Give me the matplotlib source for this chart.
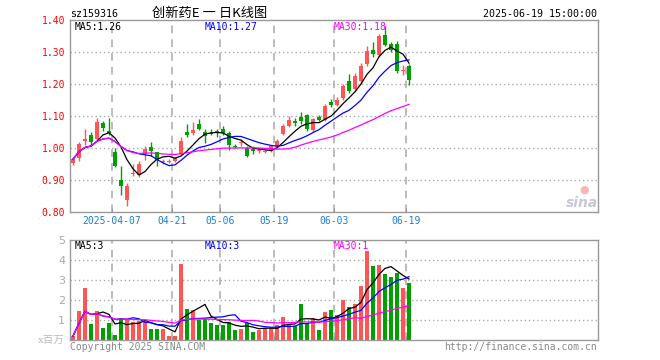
import numpy as np
import pandas as pd
import matplotlib
matplotlib.use("Agg")
import matplotlib.pyplot as plt

# daily bars, 2025-03-26 .. 2025-06-19
opens = [0.952, 0.970, 1.021, 1.040, 1.028, 1.077, 1.052, 0.989, 0.901, 0.836,
         0.918, 0.915, 0.980, 1.004, 0.988, 0.955, 0.957, 0.960, 0.980, 1.049,
         1.046, 1.076, 1.049, 1.048, 1.054, 1.060, 1.047, 1.006, 1.017, 0.999,
         0.998, 0.992, 0.989, 0.990, 1.003, 1.045, 1.070, 1.083, 1.096, 1.102,
         1.055, 1.096, 1.087, 1.143, 1.135, 1.155, 1.208, 1.185, 1.210, 1.262,
         1.307, 1.290, 1.354, 1.326, 1.326, 1.240, 1.255]
highs = [0.970, 1.018, 1.060, 1.049, 1.093, 1.083, 1.095, 1.000, 0.945, 0.890,
         0.950, 0.958, 1.005, 1.019, 0.988, 0.967, 0.966, 0.972, 1.033, 1.075,
         1.080, 1.092, 1.058, 1.059, 1.060, 1.070, 1.054, 1.013, 1.028, 1.007,
         1.005, 1.000, 0.995, 1.010, 1.028, 1.075, 1.099, 1.094, 1.111, 1.106,
         1.095, 1.104, 1.137, 1.153, 1.158, 1.200, 1.232, 1.235, 1.265, 1.320,
         1.330, 1.355, 1.382, 1.332, 1.333, 1.258, 1.262]
lows = [0.948, 0.958, 1.008, 1.005, 1.026, 1.052, 1.040, 0.940, 0.852, 0.818,
        0.913, 0.908, 0.963, 0.974, 0.944, 0.951, 0.952, 0.955, 0.977, 1.035,
        1.042, 1.055, 1.015, 1.040, 1.035, 1.040, 0.995, 1.000, 1.005, 0.971,
        0.982, 0.985, 0.984, 0.986, 1.000, 1.042, 1.065, 1.070, 1.075, 1.054,
        1.050, 1.084, 1.083, 1.128, 1.130, 1.150, 1.172, 1.178, 1.200, 1.255,
        1.285, 1.285, 1.318, 1.300, 1.235, 1.228, 1.198]
closes = [0.965, 1.012, 1.028, 1.020, 1.080, 1.064, 1.047, 0.945, 0.881, 0.880,
          0.922, 0.951, 0.998, 0.990, 0.963, 0.959, 0.960, 0.969, 1.023, 1.040,
          1.055, 1.059, 1.038, 1.045, 1.046, 1.046, 1.008, 1.004, 1.019, 0.976,
          0.990, 0.995, 0.992, 1.006, 1.021, 1.070, 1.088, 1.077, 1.084, 1.058,
          1.090, 1.087, 1.130, 1.133, 1.150, 1.193, 1.177, 1.225, 1.255, 1.302,
          1.294, 1.351, 1.323, 1.307, 1.240, 1.245, 1.211]
# volume in millions
volumes = [0.20, 1.47, 2.62, 0.82, 1.47, 0.62, 0.87, 0.23, 1.12, 1.00,
           0.90, 0.95, 0.90, 0.57, 0.53, 0.57, 0.18, 0.18, 3.78, 1.57,
           1.50, 1.00, 1.05, 0.87, 0.73, 0.73, 0.90, 0.48, 0.57, 0.85,
           0.42, 0.50, 0.60, 0.60, 0.77, 1.17, 0.78, 0.70, 1.82, 0.85,
           1.12, 0.52, 1.42, 1.52, 1.25, 2.00, 1.65, 1.80, 2.70, 4.45,
           3.70, 3.75, 3.30, 3.15, 3.35, 2.60, 2.85]

date_idx = [7, 17, 25, 34, 44, 56]
date_labels = ['2025-04-07', '04-21', '05-06', '05-19', '06-03', '06-19']
price_ticks = [0.80, 0.90, 1.00, 1.10, 1.20, 1.30, 1.40]
vol_ticks = [1, 2, 3, 4, 5]

RED = '#ff5555'
GREEN = '#00a000'
GRID = '#aaaaaa'
FRAME = '#999999'
MONO = 'DejaVu Sans Mono'

n = len(closes)
x = np.arange(n)
o = np.array(opens)
c = np.array(closes)
colors = [RED if cc >= oo else GREEN for oo, cc in zip(o, c)]

cl = pd.Series(closes)
vs = pd.Series(volumes)
ma = {k: cl.rolling(k, min_periods=1).mean() for k in (5, 10, 30)}
vma = {k: vs.rolling(k, min_periods=1).mean() for k in (5, 10, 30)}
ma_colors = {5: 'black', 10: '#0000ff', 30: '#ff00ff'}

W, H = 660, 360
fig = plt.figure(figsize=(W / 100, H / 100), dpi=100)
ax = fig.add_axes([70 / W, 1 - 212 / H, 528 / W, 192 / H])
axv = fig.add_axes([70 / W, 1 - 340 / H, 528 / W, 100 / H])


def px(xp, yp):
    return xp / W, 1 - yp / H


for a in (ax, axv):
    a.set_xlim(-0.5, 87.5)
    for s in a.spines.values():
        s.set_color(FRAME)
        s.set_linewidth(1)
    for d in date_idx:
        a.axvline(d - 0.5, color=GRID, lw=1.1, ls=(0, (5, 4)), zorder=0)
    a.set_xticks([d - 0.5 for d in date_idx])
    a.tick_params(axis='x', direction='in', length=3, color=FRAME)
    a.tick_params(axis='y', length=0)

# price panel
ax.set_ylim(0.80, 1.40)
for t in price_ticks[1:-1]:
    ax.axhline(t, color=GRID, lw=1, ls=(0, (1, 2)), zorder=0)
ax.set_yticks(price_ticks)
ax.set_yticklabels(['%.2f' % t for t in price_ticks], color='red',
                   fontsize=7, family=MONO)
ax.set_xticklabels(date_labels, color='#1a7fd0', fontsize=7, family=MONO)
ax.tick_params(axis='x', pad=3)

body = np.maximum(np.abs(c - o), 0.0025)
ax.vlines(x, lows, highs, colors=colors, lw=1, zorder=2)
ax.bar(x, body, bottom=np.minimum(o, c), width=0.82, color=colors, lw=0, zorder=3)
for k in (5, 10, 30):
    ax.plot(x, ma[k], color=ma_colors[k], lw=0.9, zorder=4)

# volume panel
axv.set_ylim(0, 5)
for t in vol_ticks[:-1]:
    axv.axhline(t, color=GRID, lw=1, ls=(0, (1, 2)), zorder=0)
axv.set_yticks(vol_ticks)
axv.set_yticklabels([str(t) for t in vol_ticks], color='#aaaaaa', fontsize=8)
axv.set_xticklabels([])
axv.bar(x, volumes, width=0.75, color=colors, lw=0, zorder=2)
for k in (5, 10, 30):
    axv.plot(x, vma[k], color=ma_colors[k], lw=0.9, zorder=4)

# header / legend texts
fig.text(*px(70, 14), 'sz159316', fontsize=7.2, family=MONO, va='center')
fig.text(*px(210, 13), '创新药E 一 日K线图', fontsize=9.5,
         family=['Noto Sans CJK SC', 'DejaVu Sans'], ha='center', va='center')
fig.text(*px(597, 14), '2025-06-19 15:00:00', fontsize=7.2, family=MONO,
         ha='right', va='center')

for lbl, xp, col in [('MA5:1.26', 75, 'black'), ('MA10:1.27', 205, '#0000ff'),
                     ('MA30:1.18', 334, '#ff00ff')]:
    fig.text(*px(xp, 27), lbl, fontsize=7, family=MONO, color=col, va='center')
for lbl, xp, col in [('MA5:3', 75, 'black'), ('MA10:3', 205, '#0000ff'),
                     ('MA30:1', 334, '#ff00ff')]:
    fig.text(*px(xp, 246), lbl, fontsize=7, family=MONO, color=col, va='center')

fig.text(*px(64, 340), 'x百万', fontsize=7.5, color='#bbbbbb',
         family=['DejaVu Serif', 'Noto Sans CJK SC'], ha='right', va='center')
fig.text(*px(70, 347), 'Copyright 2025 SINA.COM', fontsize=7, family=MONO,
         color='#888888', va='center')
fig.text(*px(597, 347), 'http://finance.sina.com.cn', fontsize=7, family=MONO,
         color='#888888', ha='right', va='center')

# sina watermark
fig.text(*px(584, 190), '●', fontsize=8, color='#f4b8b8', ha='center', va='center')
fig.text(*px(582, 203), 'sina', fontsize=10, style='italic', weight='bold',
         color='#c8c8d4', ha='center', va='center')

fig.savefig('out.png', dpi=100)
